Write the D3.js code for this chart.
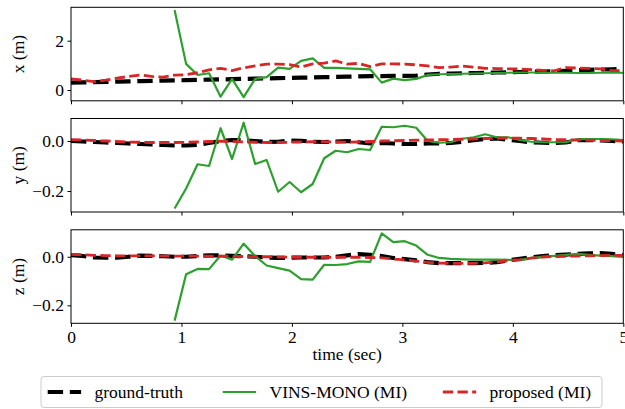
<!DOCTYPE html>
<html>
<head>
<meta charset="utf-8">
<script src="https://cdn.jsdelivr.net/npm/d3@7"></script>
<style>
  body { margin: 0; background: #fff; }
  svg { display: block; }
  text { font-family: "Liberation Serif", "DejaVu Serif", serif; fill: #000; }
</style>
</head>
<body>
<div id="chart"></div>
<script>
const W = 625;
const H = 409;

// sample times (sec)
const times = [0, 0.104, 0.208, 0.313, 0.417, 0.521, 0.625, 0.729, 0.833, 0.938, 1.042, 1.146, 1.25, 1.354, 1.458, 1.563, 1.667, 1.771, 1.875, 1.979, 2.083, 2.188, 2.292, 2.396, 2.5, 2.604, 2.708, 2.813, 2.917, 3.021, 3.125, 3.229, 3.333, 3.438, 3.542, 3.646, 3.75, 3.854, 3.958, 4.063, 4.167, 4.271, 4.375, 4.479, 4.583, 4.688, 4.792, 4.896, 5.0];
// VINS-MONO only starts at this sample
const vinsStart = 9;

// x (m)
const gtX = [0.30, 0.31, 0.32, 0.33, 0.34, 0.35, 0.36, 0.37, 0.38, 0.39, 0.40, 0.41, 0.42, 0.43, 0.44, 0.45, 0.46, 0.47, 0.48, 0.49, 0.50, 0.51, 0.52, 0.53, 0.54, 0.55, 0.56, 0.56, 0.57, 0.57, 0.58, 0.63, 0.66, 0.67, 0.68, 0.69, 0.70, 0.71, 0.72, 0.73, 0.74, 0.75, 0.76, 0.78, 0.80, 0.82, 0.83, 0.84, 0.85];
const vinsX = [3.24, 1.06, 0.61, 0.68, -0.27, 0.45, -0.29, 0.45, 0.52, 0.91, 0.86, 1.18, 1.28, 0.90, 0.90, 0.88, 0.86, 0.84, 0.30, 0.46, 0.40, 0.45, 0.61, 0.64, 0.65, 0.66, 0.67, 0.68, 0.69, 0.70, 0.71, 0.71, 0.70, 0.70, 0.70, 0.69, 0.69, 0.70, 0.70, 0.70];
const propX = [0.45, 0.40, 0.34, 0.40, 0.48, 0.55, 0.61, 0.55, 0.52, 0.60, 0.62, 0.70, 0.82, 0.88, 0.79, 0.90, 0.98, 1.05, 1.05, 1.03, 0.93, 1.06, 1.09, 1.18, 1.05, 1.08, 0.95, 1.06, 1.06, 1.05, 1.02, 0.98, 0.91, 0.93, 0.97, 0.93, 0.88, 0.87, 0.86, 0.85, 0.83, 0.80, 0.78, 0.91, 0.89, 0.88, 0.86, 0.79, 0.78];

// y (m)
const gtY = [0.0, -0.002, -0.004, -0.006, -0.008, -0.01, -0.012, -0.014, -0.016, -0.018, -0.018, -0.015, -0.008, 0.0, 0.004, 0.003, 0.0, -0.004, -0.003, 0.002, 0.001, -0.003, -0.004, -0.002, 0.0, -0.005, -0.01, -0.008, -0.01, -0.012, -0.012, -0.01, -0.01, -0.008, -0.003, 0.003, 0.008, 0.01, 0.005, 0.0, -0.005, -0.007, -0.008, -0.006, 0.003, 0.004, 0.002, 0.0, -0.002];
const vinsY = [-0.27, -0.19, -0.093, -0.100, 0.051, -0.072, 0.073, -0.092, -0.076, -0.203, -0.164, -0.205, -0.172, -0.069, -0.039, -0.045, -0.032, -0.036, 0.057, 0.055, 0.061, 0.053, 0.0, -0.007, -0.005, 0.009, 0.015, 0.027, 0.015, 0.015, 0.004, -0.003, -0.005, -0.005, -0.005, 0.007, 0.008, 0.008, 0.007, 0.004];
const propY = [0.005, 0.004, 0.002, 0.0, -0.002, -0.004, -0.005, -0.006, -0.006, -0.006, -0.005, -0.004, -0.002, -0.001, -0.002, -0.004, -0.005, -0.006, -0.006, -0.005, -0.004, -0.003, -0.003, -0.004, -0.005, -0.004, -0.002, 0.0, 0.001, 0.002, 0.003, 0.004, 0.005, 0.006, 0.007, 0.008, 0.010, 0.011, 0.012, 0.011, 0.010, 0.008, 0.006, 0.005, 0.004, 0.003, 0.002, 0.001, 0.0];

// z (m)
const gtZ = [0.007, 0.003, -0.003, -0.004, -0.004, 0.0, 0.005, 0.004, 0.002, 0.0, 0.0, 0.003, 0.006, 0.006, 0.004, 0.002, 0.0, -0.003, -0.005, -0.004, -0.003, -0.003, -0.003, 0.0, 0.006, 0.011, 0.008, 0.003, -0.005, -0.010, -0.015, -0.022, -0.026, -0.026, -0.026, -0.026, -0.025, -0.022, -0.015, -0.009, -0.002, 0.003, 0.006, 0.009, 0.012, 0.014, 0.015, 0.012, 0.006];
const vinsZ = [-0.263, -0.072, -0.05, -0.051, 0.005, -0.012, 0.054, 0.003, -0.036, -0.047, -0.057, -0.092, -0.094, -0.033, -0.034, -0.030, -0.019, -0.021, 0.096, 0.060, 0.064, 0.046, 0.008, -0.005, -0.009, -0.011, -0.012, -0.012, -0.012, -0.013, -0.014, -0.004, 0.0, 0.004, 0.008, 0.012, 0.008, 0.005, 0.003, -0.001];
const propZ = [0.01, 0.008, 0.006, 0.005, 0.004, 0.004, 0.004, 0.004, 0.003, 0.003, 0.003, 0.003, 0.002, 0.002, 0.002, 0.001, 0.0, 0.0, -0.001, -0.002, -0.002, -0.002, -0.002, -0.002, -0.002, -0.002, -0.003, -0.005, -0.009, -0.013, -0.018, -0.023, -0.026, -0.027, -0.027, -0.027, -0.025, -0.021, -0.016, -0.012, -0.006, -0.001, 0.001, 0.002, 0.003, 0.004, 0.005, 0.006, 0.006];

// ticks and labels
const xTicks = [0, 1, 2, 3, 4, 5];
const yLabels = ["x (m)", "y (m)", "z (m)"];
const yTicks = [[0, 2], [-0.2, 0.0], [-0.2, 0.0]];
const yTickLabels = [["0", "2"], ["\u22120.2", "0.0"], ["\u22120.2", "0.0"]];
const yDomains = [[-0.438, 3.355], [-0.284, 0.09], [-0.274, 0.111]];
const seriesNames = ["ground-truth", "VINS-MONO (MI)", "proposed (MI)"];

const panels = [
    {gt: gtX, vins: vinsX, prop: propX},
    {gt: gtY, vins: vinsY, prop: propY},
    {gt: gtZ, vins: vinsZ, prop: propZ}
];

const left = 71, right = 623.3;
const tops = [7.3, 118.5, 229.8];
const ph = 93.5;
const fs = 17.5;

const styles = [
    {stroke: "#000000", width: 4.2, dash: "15.4,6.7"},
    {stroke: "#2ca02c", width: 2.2, dash: null},
    {stroke: "#d62728", width: 2.8, dash: "10.3,4.4"}
];

const svg = d3.select("#chart").append("svg")
    .attr("width", W).attr("height", H)
    .attr("viewBox", "0 0 " + W + " " + H);

const x = d3.scaleLinear().domain([0, 5]).range([left, right]);

panels.forEach(function(p, k) {
    const top = tops[k];
    const y = d3.scaleLinear().domain(yDomains[k]).range([top + ph, top]);
    const g = svg.append("g");

    svg.append("clipPath").attr("id", "clip" + k)
        .append("rect").attr("x", left).attr("y", top)
        .attr("width", right - left).attr("height", ph);

    const line = d3.line().x(d => x(d[0])).y(d => y(d[1]));

    const gtData = times.map((t, i) => [t, p.gt[i]]);
    const vinsData = times.slice(vinsStart).map((t, i) => [t, p.vins[i]]);
    const propData = times.map((t, i) => [t, p.prop[i]]);

    [gtData, vinsData, propData].forEach(function(d, j) {
        g.append("path")
            .datum(d)
            .attr("clip-path", "url(#clip" + k + ")")
            .attr("fill", "none")
            .attr("stroke", styles[j].stroke)
            .attr("stroke-width", styles[j].width)
            .attr("stroke-dasharray", styles[j].dash)
            .attr("stroke-linejoin", "round")
            .attr("d", line);
    });

    // frame
    g.append("rect")
        .attr("x", left).attr("y", top)
        .attr("width", right - left).attr("height", ph)
        .attr("fill", "none").attr("stroke", "#000").attr("stroke-width", 1);

    // y axis
    const ya = g.append("g")
        .attr("transform", "translate(" + left + ",0)")
        .call(d3.axisLeft(y).tickValues(yTicks[k])
            .tickFormat((d, i) => yTickLabels[k][i])
            .tickSize(3.5).tickPadding(3.5));
    ya.select(".domain").remove();
    ya.selectAll("text").attr("font-size", fs).style("font-family", "Liberation Serif, serif");

    // x axis
    const xa = g.append("g")
        .attr("transform", "translate(0," + (top + ph) + ")")
        .call(d3.axisBottom(x).tickValues(xTicks).tickFormat(d3.format("d"))
            .tickSize(3.5).tickPadding(3.5));
    xa.select(".domain").remove();
    xa.selectAll("text").attr("font-size", fs).style("font-family", "Liberation Serif, serif");
    if (k < 2) xa.selectAll("text").remove();

    // y label
    g.append("text")
        .attr("transform", "translate(24," + (top + ph / 2) + ") rotate(-90)")
        .attr("text-anchor", "middle")
        .attr("font-size", fs)
        .text(yLabels[k]);
});

// x label
svg.append("text")
    .attr("x", (left + right) / 2).attr("y", 360)
    .attr("text-anchor", "middle")
    .attr("font-size", fs)
    .text("time (sec)");

// legend
const lg = svg.append("g");
lg.append("rect")
    .attr("x", 41).attr("y", 376.5)
    .attr("width", 561).attr("height", 31)
    .attr("rx", 3)
    .attr("fill", "#fff").attr("fill-opacity", 0.8)
    .attr("stroke", "#cccccc").attr("stroke-width", 1);

const handleX = [47.7, 222.7, 442.8];
const legY = 392;
seriesNames.forEach(function(name, j) {
    lg.append("line")
        .attr("x1", handleX[j]).attr("x2", handleX[j] + 33.4)
        .attr("y1", legY).attr("y2", legY)
        .attr("stroke", styles[j].stroke)
        .attr("stroke-width", styles[j].width)
        .attr("stroke-dasharray", styles[j].dash);
    lg.append("text")
        .attr("x", handleX[j] + 46.8).attr("y", legY)
        .attr("dy", "0.33em")
        .attr("font-size", fs)
        .text(name);
});
</script>
</body>
</html>
